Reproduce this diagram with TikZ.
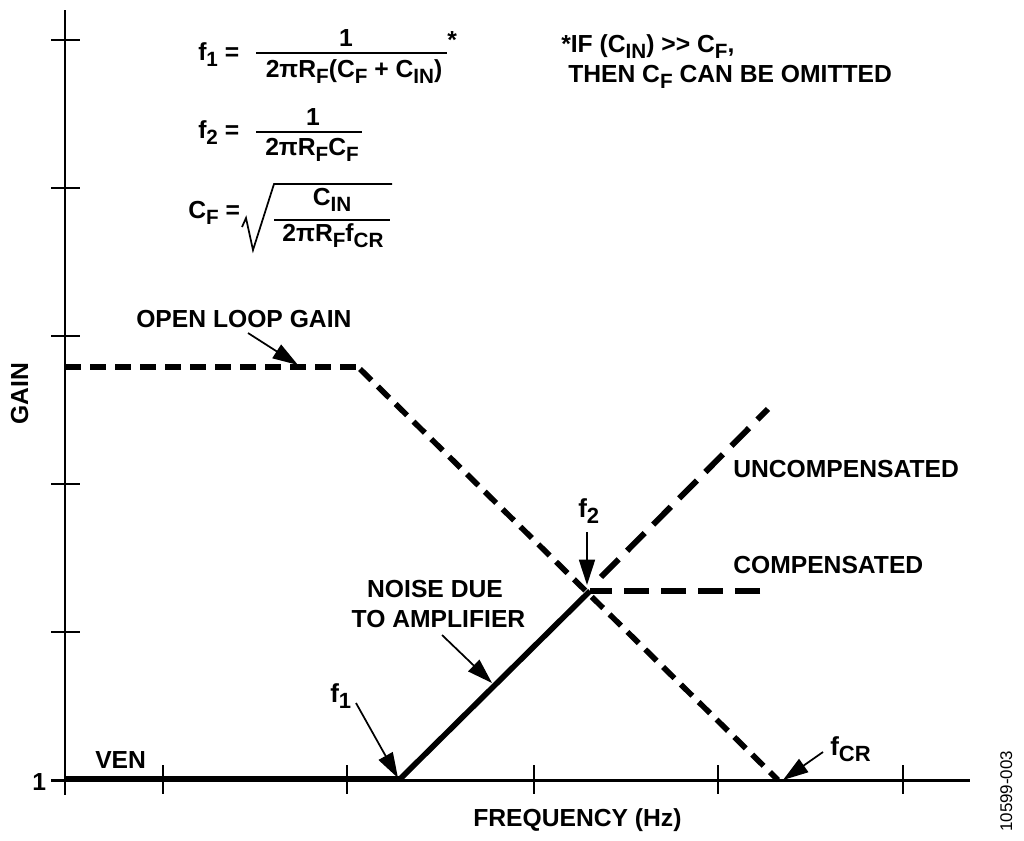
\documentclass[tikz,border=0pt]{standalone}
\usepackage{fontspec}
\setmainfont{Liberation Sans}
\usetikzlibrary{arrows.meta}
\newcommand{\sbs}[1]{\raisebox{-0.26em}{\fontsize{15.5pt}{17pt}\selectfont #1}}
\newcommand{\sbl}[1]{\raisebox{-0.26em}{\fontsize{16.5pt}{18pt}\selectfont #1}}
\tikzset{
  x=0.75pt,y=-0.75pt,
  lab/.style={inner sep=0pt,anchor=base west,font=\fontsize{18.5pt}{21pt}\bfseries\selectfont},
  labc/.style={lab,anchor=base},
  fonelab/.style={lab,font=\fontsize{19.5pt}{23pt}\bfseries\selectfont},
  axisline/.style={line width=2.2pt,black},
  tick/.style={line width=1.3pt,black},
  solidcurve/.style={line width=4.2pt,black},
  dashone/.style={line width=4.2pt,dash pattern=on 12pt off 6.75pt},
  dashtwo/.style={line width=4.4pt,dash pattern=on 18.75pt off 9pt},
  fracline/.style={line width=1.3pt},
  callout/.style={line width=1.3pt,-{Triangle[length=19pt,width=12pt]}}
}
\begin{document}
\begin{tikzpicture}
\useasboundingbox (0,0) rectangle (1024,840);
% coordinates
\coordinate (ytop) at (65,10);
\coordinate (ybot) at (65,795);
\coordinate (xleft) at (51,780.5);
\coordinate (xright) at (970,780.5);
\coordinate (olstart) at (65,367);
\coordinate (olknee) at (358,367);
\coordinate (oldiag) at (360,369);
\coordinate (crosspt) at (590,591);
\coordinate (olend) at (778,780);
\coordinate (uncstart) at (601,577);
\coordinate (uncend) at (768,409);
\coordinate (compend) at (760,591);
\coordinate (nstart) at (65,779);
\coordinate (nknee) at (400,779);
% axes
\draw[axisline] (ytop) -- (ybot);
\draw[axisline] (xleft) -- (xright);
\foreach \yy in {40,188,336,484,632}{\draw[tick] (51,\yy) -- (80,\yy);}
\foreach \xx in {163,347,534,718,903}{\draw[tick] (\xx,765) -- (\xx,794);}
% curves
\draw[dashone] (olstart) -- (olknee);
\draw[dashone] (oldiag) -- (olend);
\draw[dashtwo] (uncstart) -- (uncend);
\draw[dashtwo] (compend) -- (crosspt);
\draw[solidcurve,line join=miter] (nstart) -- (nknee) -- (crosspt);
% labels
\node[lab] (olg) at (136,327) {OPEN LOOP GAIN};
\node[lab,rotate=90] (gain) at (28,425) {GAIN};
\node[lab] (one) at (32,790) {1};
\node[lab] (ven) at (95,768) {VEN};
\node[lab] (unc) at (733,477) {UNCOMPENSATED};
\node[lab] (cmp) at (733,573) {COMPENSATED};
\node[labc] (noise1) at (435,597) {NOISE DUE};
\node[labc] (noise2) at (438.5,627) {TO AMPLIFIER};
\node[lab] (freq) at (473,826) {FREQUENCY (Hz)};
\node[fonelab] (ftwo) at (578,517) {f\sbl{2}};
\node[fonelab] (fone) at (330,702) {f\sbl{1}};
\node[fonelab] (fcr) at (830,755) {f\sbl{CR}};
\node[inner sep=0pt,anchor=base west,rotate=90,font=\fontsize{12.7pt}{15pt}\selectfont] (code) at (1012,832) {10599-003};
% callouts
\coordinate (olgtip) at (298,365);
\coordinate (olgtail) at (248,333);
\coordinate (f1tip) at (398,778);
\coordinate (f1tail) at (356,703);
\coordinate (f2tip) at (587,585);
\coordinate (f2tail) at (587,532);
\coordinate (crtip) at (783,780);
\coordinate (crtail) at (823,752);
\coordinate (ntip) at (492,683);
\coordinate (ntail) at (442,635);
\draw[callout] (olgtail) -- (olgtip);
\draw[callout] (f1tail) -- (f1tip);
\draw[callout] (f2tail) -- (f2tip);
\draw[callout] (crtail) -- (crtip);
\draw[callout] (ntail) -- (ntip);
% formulas
\node[lab] (eqa) at (198,60) {f\sbs{1} =};
\node[labc] (eqan) at (346,46) {1};
\draw[fracline] (256,53) -- (447,53);
\node[labc] (eqad) at (354,77) {2πR\sbs{F}(C\sbs{F} + C\sbs{IN})};
\node[lab] (eqas) at (447,48) {*};
\node[lab] (eqb) at (198,138) {f\sbs{2} =};
\node[labc] (eqbn) at (313,125) {1};
\draw[fracline] (256,132) -- (362,132);
\node[labc] (eqbd) at (312,155) {2πR\sbs{F}C\sbs{F}};
\node[lab] (eqc) at (188,218) {C\sbs{F} =};
\draw[line width=1.3pt,line join=miter] (242,227) -- (246,218) -- (253,250) -- (274,184) -- (392,184);
\draw[fracline] (274,220) -- (390,220);
\node[labc] (eqcn) at (332,205) {C\sbs{IN}};
\node[labc] (eqcd) at (333,241) {2πR\sbs{F}f\sbs{CR}};
\node[lab] (notea) at (561,52) {*IF (C\sbs{IN}) >{}> C\sbs{F},};
\node[lab] (noteb) at (568,82) {THEN C\sbs{F} CAN BE OMITTED};
\end{tikzpicture}
\end{document}
